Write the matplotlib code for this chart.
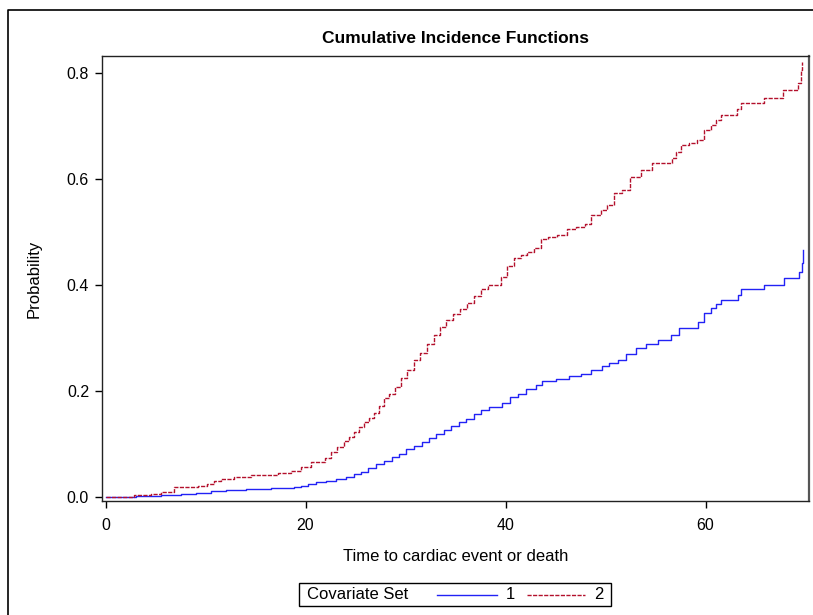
import numpy as np
import matplotlib
matplotlib.use("Agg")
import matplotlib.pyplot as plt
from matplotlib.lines import Line2D
from matplotlib.patches import Rectangle

plt.rcParams['font.family'] = ['Liberation Sans', 'DejaVu Sans']

# step points (time, cumulative incidence)
set1_time = [0, 3.0, 5.5, 7.5, 9.0, 10.5, 12.0, 14.0, 16.5, 18.8, 19.5, 20.2, 21.0, 22.0,
             23.0, 24.0, 24.8, 25.5, 26.2, 27.0, 27.8, 28.6, 29.3, 30.0, 30.8, 31.6, 32.3,
             33.0, 33.8, 34.5, 35.3, 36.0, 36.8, 37.5, 38.3, 39.6, 40.4, 41.2, 42.0, 43.0,
             43.6, 45.0, 46.3, 47.5, 48.5, 49.6, 50.3, 51.2, 52.0, 53.0, 54.0, 55.2, 56.5,
             57.3, 59.2, 59.8, 60.5, 61.0, 61.5, 63.2, 63.5, 65.8, 67.8, 69.3, 69.6, 69.7]
set1_prob = [0, 0.002, 0.004, 0.006, 0.008, 0.011, 0.013, 0.015, 0.017, 0.019, 0.021, 0.025, 0.028, 0.031,
             0.034, 0.038, 0.043, 0.048, 0.054, 0.062, 0.068, 0.075, 0.082, 0.090, 0.097, 0.104, 0.112,
             0.118, 0.126, 0.134, 0.141, 0.148, 0.156, 0.164, 0.170, 0.177, 0.189, 0.195, 0.203, 0.212,
             0.218, 0.222, 0.228, 0.233, 0.240, 0.247, 0.252, 0.258, 0.270, 0.282, 0.288, 0.297, 0.305,
             0.319, 0.330, 0.348, 0.357, 0.364, 0.372, 0.381, 0.392, 0.400, 0.413, 0.425, 0.441, 0.466]

set2_time = [0, 2.8, 4.5, 5.5, 6.8, 9.2, 10.1, 10.8, 11.5, 12.8, 14.5, 17.2, 18.5, 19.5, 20.5,
             21.9, 22.5, 23.1, 23.8, 24.3, 24.8, 25.3, 25.8, 26.3, 26.8, 27.3, 27.8, 28.3, 28.9,
             29.5, 30.1, 30.8, 31.4, 32.1, 32.8, 33.4, 34.0, 34.7, 35.4, 36.1, 36.8, 37.5, 38.2,
             39.5, 40.1, 40.8, 41.5, 42.1, 42.8, 43.5, 44.2, 45.1, 46.1, 47.0, 47.9, 48.5, 49.5,
             50.1, 50.8, 51.6, 52.4, 53.5, 54.6, 56.6, 57.0, 57.5, 58.3, 59.1, 59.8, 60.5, 61.0,
             61.5, 63.1, 63.5, 65.8, 67.7, 69.2, 69.5, 69.6]
set2_prob = [0, 0.003, 0.006, 0.010, 0.018, 0.021, 0.025, 0.030, 0.034, 0.038, 0.041, 0.045, 0.050, 0.056, 0.066,
             0.074, 0.085, 0.094, 0.106, 0.114, 0.123, 0.132, 0.142, 0.150, 0.158, 0.172, 0.186, 0.194, 0.207,
             0.225, 0.240, 0.258, 0.272, 0.288, 0.305, 0.320, 0.334, 0.345, 0.355, 0.366, 0.380, 0.393, 0.400,
             0.416, 0.435, 0.450, 0.456, 0.462, 0.470, 0.486, 0.490, 0.494, 0.506, 0.510, 0.515, 0.532, 0.541,
             0.551, 0.573, 0.580, 0.604, 0.617, 0.631, 0.639, 0.650, 0.664, 0.668, 0.674, 0.692, 0.702, 0.711,
             0.720, 0.732, 0.743, 0.753, 0.767, 0.782, 0.806, 0.820]

x_ticks = [0, 20, 40, 60]
y_ticks = [0.0, 0.2, 0.4, 0.6, 0.8]
blue = '#2222F5'
red = '#B3102C'

W, H = 813, 615


def fx(x):
    return x / W


def fy(y):
    return 1 - y / H


fig = plt.figure(figsize=(W / 100, H / 100), dpi=100)
ax = fig.add_axes([fx(101.5), fy(501), (809 - 101.5) / W, (501 - 56) / H])

ax.plot(set1_time, set1_prob, drawstyle='steps-post', color=blue, lw=1.0)
ax.plot(set2_time, set2_prob, drawstyle='steps-post', color=red, lw=1.0, dashes=(3, 1))

ax.set_xlim(-0.4, 70.35)
ax.set_ylim(-0.0075, 0.832)
ax.set_xticks(x_ticks)
ax.set_yticks(y_ticks)
ax.set_yticklabels([f'{v:.1f}' for v in y_ticks])
ax.tick_params(direction='out', length=5, width=1, labelsize=11.5, colors='black')
ax.tick_params(axis='x', pad=7)
ax.tick_params(axis='y', pad=4)
for s in ax.spines.values():
    s.set_linewidth(1.0)
    s.set_color('#222222')
ax.spines['right'].set_linewidth(1.6)
ax.spines['right'].set_color('#555555')

ax.set_title('Cumulative Incidence Functions', fontsize=12.5, fontweight='bold', pad=9)
ax.set_xlabel('Time to cardiac event or death', fontsize=12, labelpad=12)
ax.set_ylabel('Probability', fontsize=12, labelpad=18)

# outer frame of the graph (runs off the right and bottom edge)
fig.add_artist(Line2D([fx(8), fx(8), fx(820)], [fy(620), fy(10), fy(10)],
                      transform=fig.transFigure, color='black', lw=1.2))

# legend box
fig.add_artist(Rectangle((fx(299), fy(606)), (611 - 299) / W, (606 - 583) / H,
                         transform=fig.transFigure, fill=False, ec='black', lw=1.0))
ly = fy(594.5)
fig.text(fx(307), ly, 'Covariate Set', fontsize=12, va='center', ha='left')
fig.add_artist(Line2D([fx(437), fx(497)], [ly, ly], transform=fig.transFigure, color=blue, lw=1.0))
fig.text(fx(510), ly, '1', fontsize=12, va='center', ha='center')
fig.add_artist(Line2D([fx(527), fx(585)], [ly, ly], transform=fig.transFigure, color=red, lw=1.0,
                      dashes=(3, 1)))
fig.text(fx(599), ly, '2', fontsize=12, va='center', ha='center')

fig.savefig('out.png', dpi=100)
